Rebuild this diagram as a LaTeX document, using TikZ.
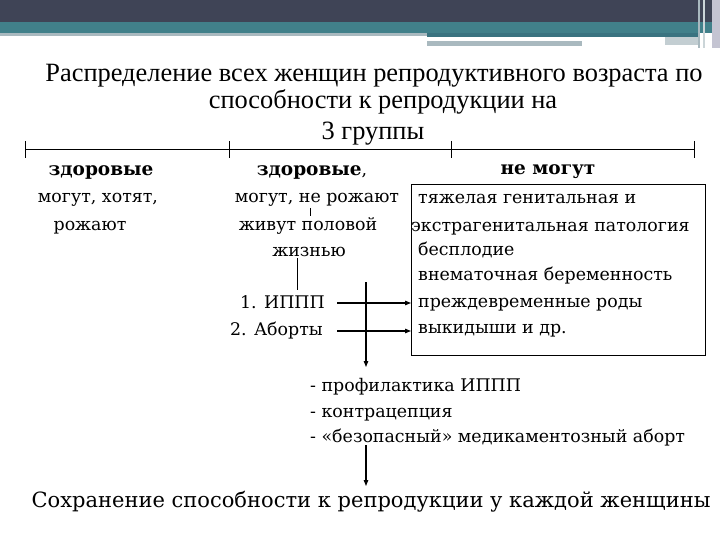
\documentclass[tikz,border=0pt]{standalone}
\usepackage{fontspec}
\setmainfont{DejaVu Serif}
\newfontfamily\titlefont{Liberation Serif}
\usetikzlibrary{arrows.meta}
\definecolor{hdark}{HTML}{3F4456}
\definecolor{hteal}{HTML}{41808A}
\definecolor{hteald}{HTML}{3A7380}
\definecolor{hgray}{HTML}{A9B9BF}
\definecolor{hlight}{HTML}{C4C4D2}
\begin{document}
\begin{tikzpicture}[x=1pt,y=-1pt,
  body/.style={inner sep=0pt, font=\fontsize{17.4}{20}\selectfont},
  bodyb/.style={inner sep=0pt, font=\fontsize{18.5}{21}\selectfont\bfseries},
  ttl/.style={inner sep=0pt, font=\titlefont\fontsize{26.4}{30}\selectfont},
  big/.style={inner sep=0pt, font=\fontsize{21}{25}\selectfont},
  arr/.style={line width=1.1pt, -{Triangle[length=6pt,width=4.5pt]}},
  boxst/.style={draw, line width=0.9pt, inner sep=0pt}]
\useasboundingbox (0,0) rectangle (720,540);
\fill[white] (0,0) rectangle (720,540);
% header
\fill[hdark] (0,0) rectangle (720,22);
\fill[hteal] (0,22) rectangle (720,33);
\fill[hgray] (0,33) rectangle (427,36);
\fill[hteald] (427,33) rectangle (700,37);
\fill[hgray] (427,41) rectangle (582,46);
\fill[hgray!70] (665,37) rectangle (700,45);
\fill[hgray] (698,0) rectangle (700,48);
\fill[hgray!60] (703,0) rectangle (705,48);
\fill[hlight] (712,0) rectangle (720,48);
% title
\node[ttl, anchor=base] (t1) at (374,82) {Распределение всех женщин репродуктивного возраста по};
\node[ttl, anchor=base] (t2) at (383,109) {способности к репродукции на};
\node[ttl, anchor=base] (t3) at (373,140) {3 группы};
% scale line
\coordinate (s0) at (25,150);
\coordinate (s1) at (229,150);
\coordinate (s2) at (451,150);
\coordinate (s3) at (694,150);
\draw[line width=1pt] (s0) -- (s3);
\foreach \p in {s0,s1,s2,s3} \draw[line width=1pt] ([yshift=9pt]\p) -- ([yshift=-8pt]\p);
% group 1
\node[bodyb, anchor=base] (g1) at (101,176) {здоровые};
\node[body, anchor=base] (g1a) at (98,203) {могут, хотят,};
\node[body, anchor=base] (g1b) at (90,230) {рожают};
% group 2
\node[body, anchor=base] (g2) at (312,176) {{\fontsize{18.5}{21}\selectfont\bfseries здоровые},};
\node[body, anchor=base] (g2a) at (317,203) {могут, не рожают};
\node[body, anchor=base] (g2b) at (308,230) {живут половой};
\node[body, anchor=base] (g2c) at (309,256) {жизнью};
\coordinate (tk1) at (310,208);
\coordinate (tk2) at (310,216);
\draw[line width=0.8pt] (tk1) -- (tk2);
% group 3
\node[bodyb, anchor=base] (g3) at (548,175) {не могут};
\node[boxst, minimum width=294pt, minimum height=171pt, anchor=north west] (box) at (411,184) {};
\node[body, anchor=base west] (b1) at (418,204) {тяжелая генитальная и};
\node[body, anchor=base west] (b2) at (411,231) {экстрагенитальная патология};
\node[body, anchor=base west] (b3) at (418,255) {бесплодие};
\node[body, anchor=base west] (b4) at (418,280) {внематочная беременность};
\node[body, anchor=base west] (b5) at (418,307) {преждевременные роды};
\node[body, anchor=base west] (b6) at (418,333) {выкидыши и др.};
% causes
\node[body, anchor=base east] (c1) at (325,308) {1. ИППП};
\node[body, anchor=base east] (c2) at (323,335) {2. Аборты};
\draw[line width=0.9pt] (297,258) -- (297,290);
\coordinate (a1s) at (337,303);
\coordinate (a2s) at (337,331);
\draw[arr] (a1s) -- (a1s -| box.west);
\draw[arr] (a2s) -- (a2s -| box.west);
% measures
\coordinate (v1s) at (366,282);
\node[body, anchor=base west] (m1) at (310,391) {- профилактика ИППП};
\node[body, anchor=base west] (m2) at (310,417) {- контрацепция};
\node[body, anchor=base west] (m3) at (310,442) {- «безопасный» медикаментозный аборт};
\draw[arr] (v1s) -- (366,367);
\node[big, anchor=base] (fin) at (371,507) {Сохранение способности к репродукции у каждой женщины};
\coordinate (v2s) at (366,445);
\draw[arr] (v2s) -- (366,486);
\end{tikzpicture}
\end{document}
